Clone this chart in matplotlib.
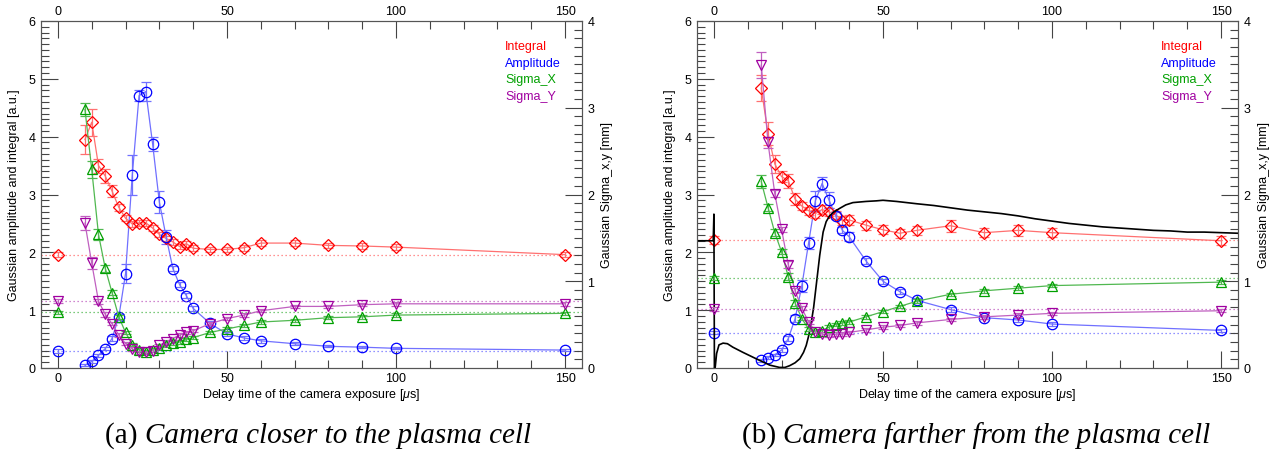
import matplotlib
matplotlib.use('Agg')
import matplotlib.pyplot as plt
from matplotlib.ticker import MultipleLocator

plt.rcParams['font.family'] = ['Liberation Sans', 'DejaVu Sans']
plt.rcParams['mathtext.fontset'] = 'custom'
plt.rcParams['mathtext.it'] = 'Liberation Sans:italic'
plt.rcParams['mathtext.rm'] = 'Liberation Sans'

# ---------------- data: panel (a) camera closer ----------------
delay_a = [0, 8, 10, 12, 14, 16, 18, 20, 22, 24, 26, 28, 30, 32, 34, 36, 38, 40,
           45, 50, 55, 60, 70, 80, 90, 100, 150]
integral_a = [1.96, 3.95, 4.25, 3.50, 3.32, 3.06, 2.78, 2.59, 2.49, 2.51, 2.51, 2.42,
              2.31, 2.24, 2.18, 2.10, 2.15, 2.07, 2.05, 2.05, 2.08, 2.16, 2.16, 2.12,
              2.11, 2.09, 1.96]
integral_err_a = [0.04, 0.25, 0.23, 0.12, 0.12, 0.10, 0.06, 0.05, 0.05, 0.05, 0.05, 0.05,
                  0.05, 0.05, 0.05, 0.05, 0.05, 0.05, 0.05, 0.05, 0.05, 0.05, 0.05, 0.05,
                  0.05, 0.05, 0.04]
amplitude_a = [0.29, 0.05, 0.115, 0.22, 0.335, 0.51, 0.88, 1.63, 3.34, 4.71, 4.78, 3.88,
               2.87, 2.27, 1.72, 1.44, 1.25, 1.03, 0.77, 0.59, 0.52, 0.47, 0.42, 0.375,
               0.36, 0.34, 0.31]
amplitude_err_a = [0.03, 0.02, 0.02, 0.03, 0.03, 0.04, 0.05, 0.16, 0.34, 0.09, 0.16, 0.12,
                   0.19, 0.12, 0.05, 0.04, 0.04, 0.04, 0.04, 0.03, 0.03, 0.03, 0.03, 0.02,
                   0.02, 0.02, 0.02]
sigma_x_a = [0.64, 2.98, 2.29, 1.54, 1.15, 0.87, 0.59, 0.41, 0.27, 0.21, 0.19, 0.21, 0.23,
             0.26, 0.29, 0.30, 0.33, 0.35, 0.41, 0.45, 0.49, 0.53, 0.55, 0.58, 0.59, 0.61,
             0.63]
sigma_x_err_a = [0.02, 0.07, 0.10, 0.06, 0.04, 0.03, 0.02, 0.02, 0.02, 0.02, 0.02, 0.02,
                 0.02, 0.02, 0.02, 0.02, 0.02, 0.02, 0.02, 0.02, 0.02, 0.02, 0.02, 0.02,
                 0.02, 0.02, 0.02]
sigma_y_a = [0.77, 1.67, 1.21, 0.77, 0.62, 0.51, 0.38, 0.28, 0.22, 0.18, 0.18, 0.20, 0.26,
             0.30, 0.34, 0.38, 0.41, 0.43, 0.51, 0.57, 0.61, 0.66, 0.71, 0.71, 0.73, 0.74,
             0.74]
sigma_y_err_a = [0.02, 0.08, 0.065, 0.03, 0.03, 0.02, 0.02, 0.02, 0.02, 0.02, 0.02, 0.02,
                 0.02, 0.02, 0.02, 0.02, 0.02, 0.02, 0.02, 0.02, 0.02, 0.02, 0.02, 0.02,
                 0.02, 0.02, 0.02]

# ---------------- data: panel (b) camera farther ----------------
delay_b = [0, 14, 16, 18, 20, 22, 24, 26, 28, 30, 32, 34, 36, 38, 40, 45, 50, 55, 60,
           70, 80, 90, 100, 150]
integral_b = [2.21, 4.84, 4.05, 3.53, 3.31, 3.24, 2.92, 2.80, 2.72, 2.67, 2.74, 2.70,
              2.65, 2.55, 2.56, 2.47, 2.39, 2.33, 2.38, 2.46, 2.34, 2.38, 2.34, 2.20]
integral_err_b = [0.07, 0.23, 0.20, 0.15, 0.10, 0.12, 0.10, 0.07, 0.07, 0.07, 0.07, 0.07,
                  0.07, 0.07, 0.08, 0.08, 0.08, 0.08, 0.08, 0.10, 0.08, 0.10, 0.08, 0.08]
amplitude_b = [0.61, 0.13, 0.18, 0.23, 0.31, 0.51, 0.85, 1.42, 2.16, 2.89, 3.19, 2.91,
               2.63, 2.38, 2.27, 1.85, 1.50, 1.32, 1.17, 1.01, 0.87, 0.83, 0.76, 0.65]
amplitude_err_b = [0.03, 0.02, 0.02, 0.02, 0.03, 0.04, 0.06, 0.10, 0.10, 0.17, 0.12, 0.14,
                   0.06, 0.05, 0.08, 0.05, 0.04, 0.04, 0.04, 0.04, 0.03, 0.03, 0.03, 0.03]
sigma_x_b = [1.04, 2.15, 1.85, 1.56, 1.34, 1.05, 0.75, 0.57, 0.45, 0.42, 0.43, 0.47, 0.50,
             0.52, 0.53, 0.59, 0.65, 0.71, 0.77, 0.85, 0.89, 0.92, 0.95, 0.99]
sigma_x_err_b = [0.02, 0.07, 0.04, 0.04, 0.03, 0.04, 0.03, 0.02, 0.02, 0.02, 0.02, 0.02,
                 0.02, 0.02, 0.02, 0.02, 0.02, 0.02, 0.02, 0.02, 0.02, 0.02, 0.02, 0.02]
sigma_y_b = [0.68, 3.49, 2.60, 2.01, 1.60, 1.19, 0.89, 0.69, 0.53, 0.42, 0.39, 0.38, 0.39,
             0.39, 0.41, 0.44, 0.47, 0.49, 0.52, 0.56, 0.59, 0.61, 0.63, 0.66]
sigma_y_err_b = [0.02, 0.15, 0.06, 0.04, 0.03, 0.04, 0.03, 0.02, 0.02, 0.02, 0.02, 0.02,
                 0.02, 0.02, 0.02, 0.02, 0.02, 0.02, 0.02, 0.02, 0.02, 0.02, 0.02, 0.02]

# black trace in panel (b) (left-axis units)
trace_t = [-5, -0.2, 0.0, 0.15, 0.4, 0.8, 1.5, 2.7, 4.0, 5.6, 8.6, 12.5, 16.5, 19.4, 21.0,
           22.4, 24.0, 25.4, 26.5, 27.3, 28.0, 28.8, 29.5, 30.3, 31.3, 32.3, 33.2, 34.2,
           35.5, 37.2, 39.0, 41.1, 45, 48, 50, 54, 60, 65, 70, 75, 80, 85, 90, 95, 100,
           105, 110, 115, 120, 125, 130, 135, 140, 145, 150, 155]
trace_v = [2.20, 2.20, 2.66, 0.0, 0.02, 0.25, 0.40, 0.43, 0.42, 0.36, 0.27, 0.16, 0.05,
           0.01, 0.01, 0.04, 0.09, 0.16, 0.27, 0.39, 0.55, 0.79, 1.05, 1.45, 1.95, 2.35,
           2.53, 2.63, 2.70, 2.76, 2.82, 2.86, 2.88, 2.89, 2.90, 2.88, 2.84, 2.81, 2.77,
           2.73, 2.70, 2.67, 2.63, 2.58, 2.54, 2.50, 2.47, 2.44, 2.42, 2.40, 2.38, 2.37,
           2.35, 2.35, 2.34, 2.33]

series_names = ['Integral', 'Amplitude', 'Sigma_X', 'Sigma_Y']
marker_colors = ['#ff0000', '#0000ff', '#00a000', '#a000a0']
line_colors = ['#ff7070', '#7070ff', '#50b850', '#c060c0']
markers = ['D', 'o', '^', 'v']
msizes = [6.5, 7.5, 7.0, 7.0]

captions = [('(a) ', 'Camera closer to the plasma cell'),
            ('(b) ', 'Camera farther from the plasma cell')]

W, H = 1277, 452
fig = plt.figure(figsize=(W / 100, H / 100), dpi=100)

panel_left_px = [41, 697]
ax_w_px, ax_top_px, ax_bot_px = 541, 22, 369
caption_left_px = [105, 742]

TICKC = '#444444'


def setup_axes(ax, ax2):
    ax.set_xlim(-5, 155)
    ax.set_ylim(0, 6)
    ax2.set_ylim(0, 4)
    ax.xaxis.set_major_locator(MultipleLocator(50))
    ax.xaxis.set_minor_locator(MultipleLocator(10))
    ax.yaxis.set_major_locator(MultipleLocator(1))
    ax.yaxis.set_minor_locator(MultipleLocator(0.1))
    ax2.yaxis.set_major_locator(MultipleLocator(1))
    ax2.yaxis.set_minor_locator(MultipleLocator(0.1))
    ax.tick_params(axis='both', which='both', direction='in', color=TICKC, width=0.8,
                   labelsize=9)
    ax.tick_params(axis='x', which='both', top=True, labeltop=True, bottom=True)
    ax.tick_params(which='major', length=12.5)
    ax.tick_params(which='minor', length=6)
    ax.tick_params(axis='y', which='major', pad=4)
    ax.tick_params(axis='x', which='major', pad=3)
    ax2.tick_params(axis='y', which='both', direction='in', color=TICKC, width=0.8,
                    labelsize=9, pad=4)
    ax2.tick_params(axis='y', which='major', length=12.5)
    ax2.tick_params(axis='y', which='minor', length=6)
    ax2.tick_params(axis='x', which='both', bottom=False, top=False,
                    labelbottom=False, labeltop=False)
    for a in (ax, ax2):
        for s in a.spines.values():
            s.set_color('#555555')
            s.set_linewidth(0.8)
    ax.set_xlabel(r'Delay time of the camera exposure [$\mu$s]', fontsize=9, labelpad=1)
    ax.set_ylabel('Gaussian amplitude and integral [a.u.]', fontsize=9, labelpad=6)
    ax2.set_ylabel('Gaussian Sigma_x,y [mm]', fontsize=9, rotation=90, labelpad=5)


panels = [
    (delay_a, [(integral_a, integral_err_a), (amplitude_a, amplitude_err_a),
               (sigma_x_a, sigma_x_err_a), (sigma_y_a, sigma_y_err_a)]),
    (delay_b, [(integral_b, integral_err_b), (amplitude_b, amplitude_err_b),
               (sigma_x_b, sigma_x_err_b), (sigma_y_b, sigma_y_err_b)]),
]

for p, (xs, series) in enumerate(panels):
    ax = fig.add_axes([panel_left_px[p] / W, (H - ax_bot_px) / H, ax_w_px / W,
                       (ax_bot_px - ax_top_px) / H])
    ax2 = ax.twinx()
    setup_axes(ax, ax2)
    for i, (vals, errs) in enumerate(series):
        target = ax if i < 2 else ax2
        # dotted reference line at the value of the first (t = 0) point
        target.axhline(vals[0], color=line_colors[i], lw=0.9, ls=(0, (1, 2.2)), zorder=1)
        # connecting line starts after the isolated t = 0 point
        target.plot(xs[1:], vals[1:], color=line_colors[i], lw=0.9, zorder=2)
        target.errorbar(xs, vals, yerr=errs, fmt='none', ecolor=line_colors[i],
                        elinewidth=0.9, capsize=3.5, capthick=0.9, zorder=3)
        target.plot(xs, vals, ls='none', marker=markers[i], ms=msizes[i],
                    mfc='none', mec=marker_colors[i], mew=0.9, zorder=4)
    if p == 1:
        ax.plot(trace_t, trace_v, color='black', lw=1.2, zorder=6)
    for i, name in enumerate(series_names):
        ax.text(0.858, 0.928 - i * 0.048, name, transform=ax.transAxes, color=marker_colors[i],
                fontsize=9, va='center', ha='left')
    t1 = fig.text(caption_left_px[p] / W, 0.02, captions[p][0], fontsize=21,
                  family='Liberation Serif', va='baseline', ha='left')
    ax.annotate(captions[p][1], xy=(1, 0), xycoords=t1, xytext=(0, 0),
                textcoords='offset points', fontsize=21, family='Liberation Serif',
                style='italic', va='bottom', ha='left', annotation_clip=False)

fig.savefig('out.png', dpi=100)
